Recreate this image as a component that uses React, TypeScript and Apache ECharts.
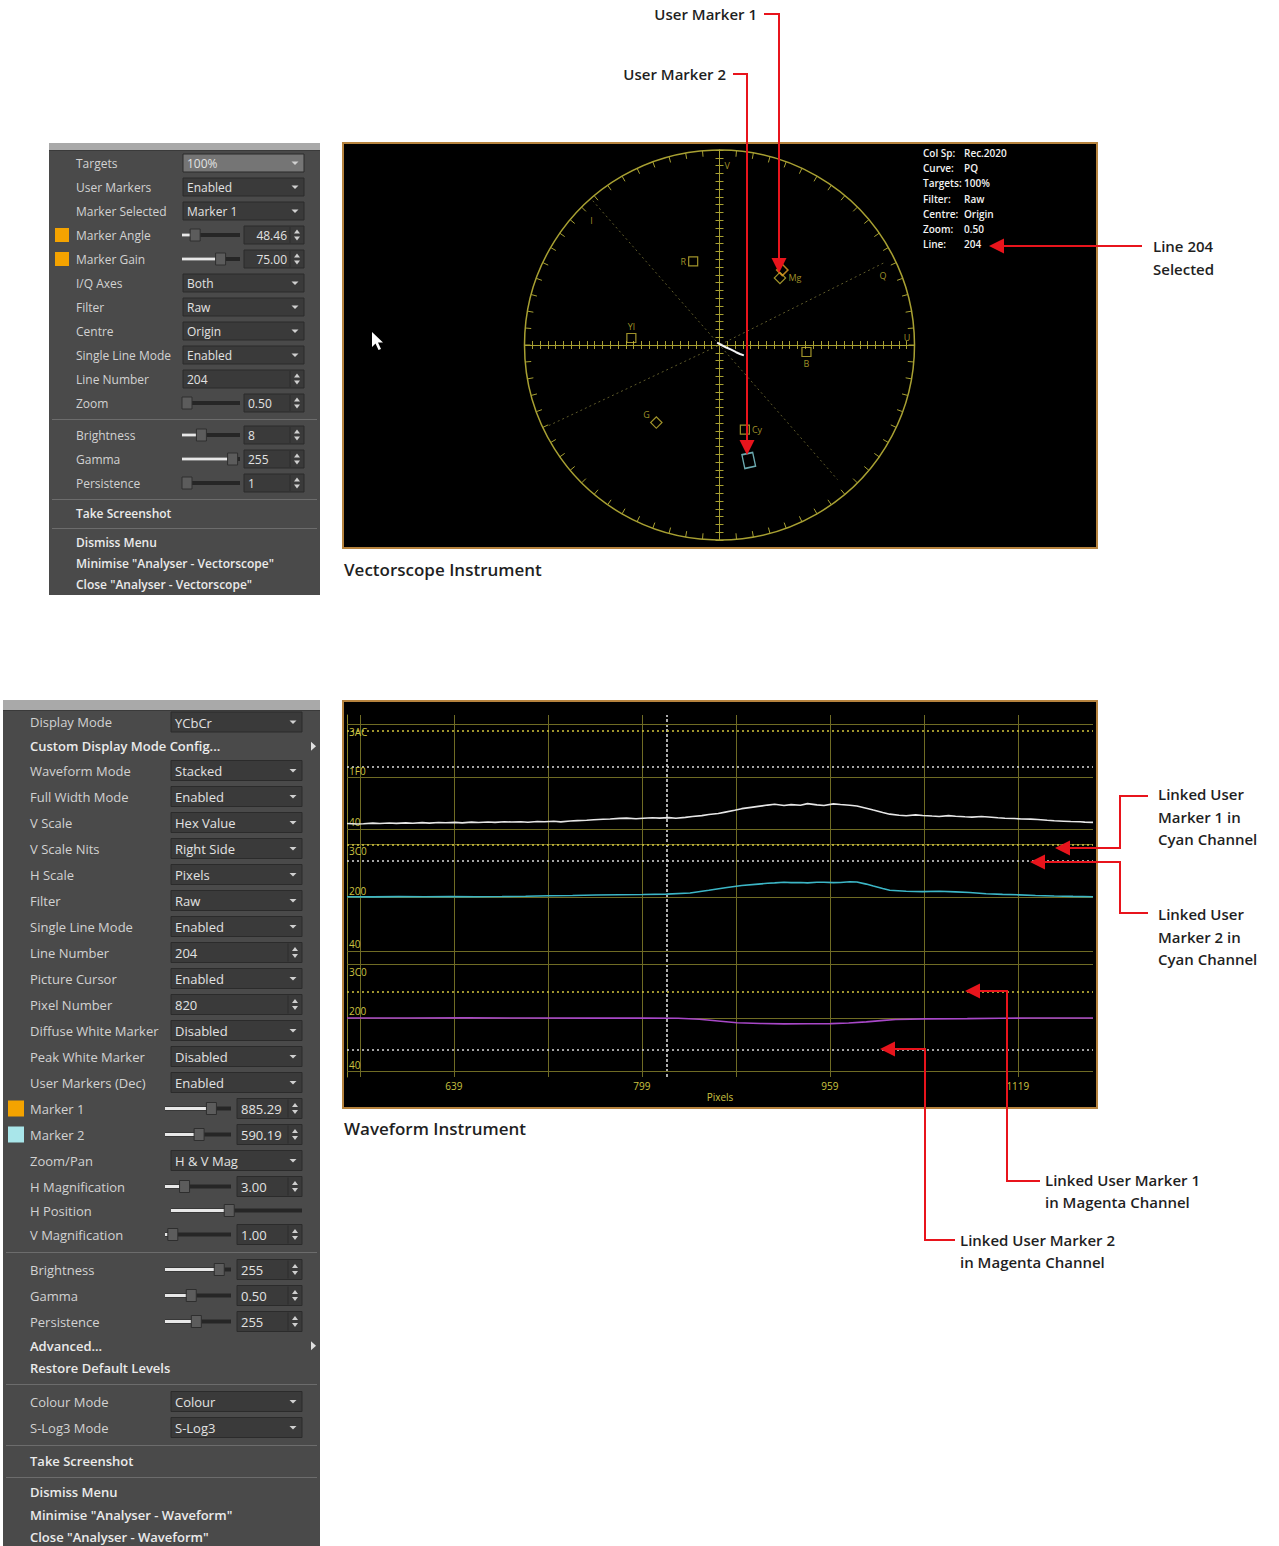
import React, { useEffect, useRef } from "react";
import * as echarts from "echarts";

/* ================= Vectorscope data ================= */
const vsTargetNames = ["R", "Mg", "B", "Cy", "G", "Yl"];
const vsTargetU = [-0.135, 0.31, 0.446, 0.13, -0.324, -0.452];
const vsTargetV = [0.429, 0.344, -0.036, -0.434, -0.398, 0.036];
const vsAxisNames = ["V", "U", "I", "Q"];
const vsAxisU = [0.04, 0.962, -0.656, 0.839];
const vsAxisV = [0.918, 0.036, 0.638, 0.357];
const vsIAxisLine = [[-0.65, 0.74], [0, 0], [0.605, -0.69]];
const vsQAxisLine = [[0.84, 0.42], [0, 0], [-0.89, -0.42]];
const vsLine204 = [[-0.012, 0.012], [0.01, 0.0], [0.035, -0.013], [0.06, -0.024], [0.085, -0.037], [0.105, -0.046], [0.125, -0.053]];
const userMarkerNames = ["Marker 1", "Marker 2"];
const userMarkerU = [0.322, 0.15];
const userMarkerV = [0.385, -0.592];
const vsInfoKeys = ["Col Sp:", "Curve:", "Targets:", "Filter:", "Centre:", "Zoom:", "Line:"];
const vsInfoValues = ["Rec.2020", "PQ", "100%", "Raw", "Origin", "0.50", "204"];

/* ================= Waveform data ================= */
const wfPixelLabels = [639, 799, 959, 1119];
const wfGridPixels = [559, 639, 719, 799, 879, 959, 1039, 1119];
const wfPictureCursor = 820;
const wfLumaLevels = [940, 496, 64];
const wfLumaLevelLabels = ["3AC", "1F0", "40"];
const wfNitsLabels = ["10000\nNits", "92.2", "0.00"];
const wfChromaLevels = [960, 512, 64];
const wfChromaLevelLabels = ["3C0", "200", "40"];
const wfYMarkers = [885.29, 590.19];
const wfCbMarkers = [953, 819];
const wfCrMarkers = [732, 244];
const wfY = [[548, 112], [556, 108], [562, 110], [570, 115], [576, 112], [584, 116], [590, 113], [598, 117], [604, 114], [612, 119], [618, 115], [626, 120], [632, 118], [640, 121], [646, 117], [654, 123], [660, 120], [668, 124], [674, 121], [682, 127], [688, 124], [696, 126], [702, 122], [710, 129], [716, 126], [724, 130], [730, 125], [738, 133], [744, 136], [752, 139], [758, 143], [766, 147], [772, 150], [780, 155], [786, 157], [794, 152], [800, 156], [808, 160], [814, 157], [822, 161], [828, 156], [836, 163], [842, 170], [850, 178], [856, 187], [864, 196], [870, 207], [878, 222], [884, 236], [892, 247], [898, 255], [906, 266], [912, 273], [920, 262], [926, 270], [934, 264], [940, 278], [948, 268], [954, 262], [962, 276], [968, 271], [976, 265], [982, 258], [990, 240], [996, 224], [1004, 204], [1010, 190], [1018, 181], [1024, 176], [1032, 184], [1038, 179], [1046, 174], [1052, 171], [1060, 178], [1066, 173], [1074, 168], [1080, 165], [1088, 170], [1094, 166], [1102, 160], [1108, 156], [1116, 153], [1122, 150], [1130, 148], [1136, 145], [1144, 139], [1150, 135], [1158, 131], [1164, 128], [1172, 126], [1176, 123], [1183, 121]];
const wfCb = [[548, 520], [570, 519], [592, 521], [614, 520], [636, 521], [658, 520], [680, 522], [700, 524], [720, 528], [740, 531], [760, 535], [780, 537], [800, 539], [820, 542], [840, 552], [856, 575], [870, 596], [884, 614], [898, 626], [906, 633], [912, 636], [920, 641], [926, 638], [934, 640], [940, 636], [948, 641], [954, 642], [962, 638], [968, 640], [976, 646], [982, 643], [990, 626], [996, 610], [1004, 589], [1010, 574], [1024, 566], [1038, 563], [1052, 566], [1066, 561], [1078, 556], [1092, 545], [1106, 540], [1120, 536], [1134, 530], [1150, 526], [1166, 523], [1183, 520]];
const wfCr = [[548, 512], [600, 512], [650, 513], [700, 512], [760, 511], [800, 512], [830, 510], [848, 501], [866, 485], [880, 472], [900, 466], [920, 463], [940, 464], [960, 465], [975, 470], [990, 480], [1005, 492], [1015, 500], [1040, 505], [1076, 507], [1104, 510], [1130, 512], [1183, 512]];

/* ================= Menus ================= */
const vsMenuRows = [
  { label: "Targets", kind: "drop", value: "100%", hl: true },
  { label: "User Markers", kind: "drop", value: "Enabled" },
  { label: "Marker Selected", kind: "drop", value: "Marker 1" },
  { label: "Marker Angle", kind: "slider", value: "48.46", pos: 0.17, swatch: "m1", ra: true },
  { label: "Marker Gain", kind: "slider", value: "75.00", pos: 0.7, swatch: "m1", ra: true },
  { label: "I/Q Axes", kind: "drop", value: "Both" },
  { label: "Filter", kind: "drop", value: "Raw" },
  { label: "Centre", kind: "drop", value: "Origin" },
  { label: "Single Line Mode", kind: "drop", value: "Enabled" },
  { label: "Line Number", kind: "spin", value: "204" },
  { label: "Zoom", kind: "slider", value: "0.50", pos: 0 },
  { kind: "sep" },
  { label: "Brightness", kind: "slider", value: "8", pos: 0.3 },
  { label: "Gamma", kind: "slider", value: "255", pos: 0.95 },
  { label: "Persistence", kind: "slider", value: "1", pos: 0 },
  { kind: "sep" },
  { label: "Take Screenshot", kind: "action" },
  { kind: "sep" },
  { label: "Dismiss Menu", kind: "action" },
  { label: "Minimise \"Analyser - Vectorscope\"", kind: "action" },
  { label: "Close \"Analyser - Vectorscope\"", kind: "action" },
];
const wfMenuRows = [
  { label: "Display Mode", kind: "drop", value: "YCbCr" },
  { label: "Custom Display Mode Config...", kind: "sub" },
  { label: "Waveform Mode", kind: "drop", value: "Stacked" },
  { label: "Full Width Mode", kind: "drop", value: "Enabled" },
  { label: "V Scale", kind: "drop", value: "Hex Value" },
  { label: "V Scale Nits", kind: "drop", value: "Right Side" },
  { label: "H Scale", kind: "drop", value: "Pixels" },
  { label: "Filter", kind: "drop", value: "Raw" },
  { label: "Single Line Mode", kind: "drop", value: "Enabled" },
  { label: "Line Number", kind: "spin", value: "204" },
  { label: "Picture Cursor", kind: "drop", value: "Enabled" },
  { label: "Pixel Number", kind: "spin", value: "820" },
  { label: "Diffuse White Marker", kind: "drop", value: "Disabled" },
  { label: "Peak White Marker", kind: "drop", value: "Disabled" },
  { label: "User Markers (Dec)", kind: "drop", value: "Enabled" },
  { label: "Marker 1", kind: "slider", value: "885.29", pos: 0.74, swatch: "m1" },
  { label: "Marker 2", kind: "slider", value: "590.19", pos: 0.52, swatch: "m2" },
  { label: "Zoom/Pan", kind: "drop", value: "H & V Mag" },
  { label: "H Magnification", kind: "slider", value: "3.00", pos: 0.26 },
  { label: "H Position", kind: "track", pos: 0.44 },
  { label: "V Magnification", kind: "slider", value: "1.00", pos: 0.05 },
  { kind: "sep" },
  { label: "Brightness", kind: "slider", value: "255", pos: 0.88 },
  { label: "Gamma", kind: "slider", value: "0.50", pos: 0.38 },
  { label: "Persistence", kind: "slider", value: "255", pos: 0.47 },
  { label: "Advanced...", kind: "sub" },
  { label: "Restore Default Levels", kind: "action" },
  { kind: "sep" },
  { label: "Colour Mode", kind: "drop", value: "Colour" },
  { label: "S-Log3 Mode", kind: "drop", value: "S-Log3" },
  { kind: "sep" },
  { label: "Take Screenshot", kind: "action" },
  { kind: "sep" },
  { label: "Dismiss Menu", kind: "action" },
  { label: "Minimise \"Analyser - Waveform\"", kind: "action" },
  { label: "Close \"Analyser - Waveform\"", kind: "action" },
];

/* ================= helpers ================= */
const FONT = '"Open Sans", "Noto Sans", sans-serif';
const swatchColors: any = { m1: "#f4a300", m2: "#a9e6ea" };

const txt = (text: string, x: number, y: number, o: any = {}) => ({
  type: "text", x, y, z: o.z ?? 5, silent: true,
  style: { text, fill: o.fill ?? "#d0d0d0", fontSize: o.fs ?? 12, fontFamily: FONT, fontWeight: o.fw ?? 400, align: o.align ?? "left", verticalAlign: "middle", lineHeight: o.lh },
});
const rect = (x: number, y: number, w: number, h: number, fill: string, o: any = {}) => ({
  type: "rect", z: o.z ?? 2, silent: true, shape: { x, y, width: w, height: h },
  style: { fill, stroke: o.stroke ?? null, lineWidth: o.lw ?? 1 },
});
const seg = (x1: number, y1: number, x2: number, y2: number, stroke: string, lw = 1, z = 3) => ({
  type: "line", z, silent: true, shape: { x1, y1, x2, y2 }, style: { stroke, lineWidth: lw },
});
const poly = (points: number[][], fill: string, z = 4) => ({ type: "polygon", z, silent: true, shape: { points }, style: { fill } });

function buildMenu(rows: any[], g: any) {
  const els: any[] = [];
  els.push(rect(g.x, g.y, g.w, g.h, "#4a4a4a", { z: 1 }));
  els.push(rect(g.x, g.y, g.w, g.hatch, "#a9a9a9", { z: 2 }));
  els.push(seg(g.x, g.y + g.hatch + 0.5, g.x + g.w, g.y + g.hatch + 0.5, "#3a3a3a", 1, 2));
  let top = g.firstY - g.rowH / 2;
  const spinArrows = (cy: number) => {
    const ax = g.cr - 7;
    els.push(seg(g.cr - 14, cy - g.ch / 2 + 1, g.cr - 14, cy + g.ch / 2 - 1, "#2c2c2c", 1, 4));
    els.push(poly([[ax - 3, cy - 1.5], [ax + 3, cy - 1.5], [ax, cy - 5.5]], "#cfcfcf"));
    els.push(poly([[ax - 3, cy + 1.5], [ax + 3, cy + 1.5], [ax, cy + 5.5]], "#cfcfcf"));
  };
  rows.forEach((r) => {
    if (r.kind === "sep") {
      const ly = Math.round(top + g.sep / 2) + 0.5;
      els.push(seg(g.x + 3, ly, g.x + g.w - 3, ly, "#6c6c6c", 1, 2));
      top += g.sep;
      return;
    }
    const isText = r.kind === "action" || r.kind === "sub";
    const h = isText ? g.textH : r.kind === "track" ? g.trackH : g.rowH;
    const cy = top + h / 2;
    top += h;
    els.push(txt(r.label, g.lx, cy, { fs: g.fs, fw: isText ? 600 : 400, fill: isText ? "#ebebeb" : "#d2d2d2" }));
    if (r.swatch) {
      els.push(rect(g.swx, cy - g.sws / 2, g.sws, g.sws, swatchColors[r.swatch], { z: 3 }));
    }
    if (r.kind === "sub") {
      const ax = g.x + g.w - 7;
      els.push(poly([[ax - 2, cy - 4.5], [ax - 2, cy + 4.5], [ax + 3, cy]], "#e0e0e0"));
    }
    if (r.kind === "drop" || r.kind === "spin") {
      els.push(rect(g.cx, cy - g.ch / 2, g.cr - g.cx, g.ch, r.hl ? "#757575" : "#3a3a3a", { stroke: "#2b2b2b", z: 3 }));
      els.push(txt(r.value, g.cx + 4, cy + 0.5, { fs: g.fs, fill: "#e2e2e2" }));
      if (r.kind === "drop") {
        const ax = g.cr - 9;
        els.push(poly([[ax - 3.5, cy - 1.5], [ax + 3.5, cy - 1.5], [ax, cy + 2]], "#d0d0d0"));
      } else spinArrows(cy);
    }
    if (r.kind === "slider" || r.kind === "track") {
      const x0 = r.kind === "track" ? g.cx : g.sx0;
      const x1 = r.kind === "track" ? g.cr : g.sx1;
      const tx = x0 + 5 + (x1 - x0 - 10) * r.pos;
      els.push(seg(x0, cy, x1, cy, "#262626", 4, 3));
      els.push(seg(x0, cy, tx, cy, "#e8e8e8", 3, 3));
      els.push(rect(tx - 5, cy - 6, 10, 12, "#5c5c5c", { stroke: "#2e2e2e", z: 4 }));
      if (r.kind === "slider") {
        els.push(rect(g.spx, cy - g.ch / 2, g.cr - g.spx, g.ch, "#3a3a3a", { stroke: "#2b2b2b", z: 3 }));
        if (r.ra) els.push(txt(r.value, g.cr - 17, cy + 0.5, { fs: g.fs, fill: "#e2e2e2", align: "right" }));
        else els.push(txt(r.value, g.spx + 4, cy + 0.5, { fs: g.fs, fill: "#e2e2e2" }));
        spinArrows(cy);
      }
    }
  });
  return els;
}

const RED = "#e8141c";
function redArrow(points: number[][], tip: number[], dir: string) {
  const els: any[] = [{ type: "polyline", z: 100, silent: true, shape: { points }, style: { stroke: RED, lineWidth: 2, fill: null } }];
  const [x, y] = tip;
  const L = 15, Hw = 7.5;
  let head: number[][] = [];
  if (dir === "down") head = [[x, y], [x - Hw, y - L], [x + Hw, y - L]];
  if (dir === "left") head = [[x, y], [x + L, y - Hw], [x + L, y + Hw]];
  els.push(poly(head, RED, 101));
  return els;
}
const note = (text: string, x: number, y: number, align = "left", fs = 15) =>
  txt(text, x, y, { fs, fw: 600, fill: "#1f1f1f", align, z: 100 });

/* ================= layout constants ================= */
const VS_CX = 719.5, VS_CY = 345, VS_R = 195;
const WF_L = 347, WF_W = 746;
const PX_PER_CODE = 0.1194;
const WF_XMIN = 548, WF_XMAX = 1183;

const OLIVE = "#6f6b24";
const YEL = "#cbc340";
const VSYEL = "#a8a032";

function buildOption() {
  const graphics: any[] = [];
  // instrument panels
  graphics.push(rect(343, 143, 754, 405, "#000000", { stroke: "#b6833e", lw: 2, z: -5 }));
  graphics.push(rect(343, 701, 754, 407, "#000000", { stroke: "#b6833e", lw: 2, z: -5 }));
  // menus
  graphics.push(...buildMenu(vsMenuRows, { x: 49, y: 143, w: 271, h: 452, hatch: 7, firstY: 163, rowH: 24, textH: 21, trackH: 22, sep: 8, lx: 76, fs: 12, cx: 183, cr: 304, ch: 18, sx0: 182, sx1: 240, spx: 244, swx: 55, sws: 14 }));
  graphics.push(...buildMenu(wfMenuRows, { x: 3, y: 700, w: 317, h: 846, hatch: 10, firstY: 722, rowH: 26, textH: 22.5, trackH: 22, sep: 9, lx: 30, fs: 13, cx: 171, cr: 302, ch: 20, sx0: 165, sx1: 231, spx: 237, swx: 8, sws: 16 }));
  // vectorscope info block
  vsInfoKeys.forEach((k, i) => {
    const y = 153 + i * 15.2;
    graphics.push(txt(k, 923, y, { fs: 10, fw: 600, fill: "#f2f2f2", z: 10 }));
    graphics.push(txt(vsInfoValues[i], 964, y, { fs: 10, fw: 600, fill: "#f2f2f2", z: 10 }));
  });
  // mouse pointer
  graphics.push(poly([[372, 332], [372, 347], [375.5, 343.5], [378.5, 350], [381, 349], [378, 342.5], [383, 342.5]], "#ffffff", 10));
  // captions
  graphics.push(note("Vectorscope Instrument", 344, 569, "left", 17));
  graphics.push(note("Waveform Instrument", 344, 1128, "left", 17));
  // annotations
  graphics.push(note("User Marker 1", 757, 14, "right"));
  graphics.push(...redArrow([[764, 14], [779, 14], [779, 260]], [779, 273], "down"));
  graphics.push(note("User Marker 2", 726, 74, "right"));
  graphics.push(...redArrow([[733, 74], [747, 74], [747, 442]], [747, 455], "down"));
  graphics.push(note("Line 204", 1153, 246));
  graphics.push(note("Selected", 1153, 269));
  graphics.push(...redArrow([[1142, 246], [1002, 246]], [989, 246], "left"));
  ["Linked User", "Marker 1 in", "Cyan Channel"].forEach((t, i) => graphics.push(note(t, 1158, 794 + i * 22.5)));
  graphics.push(...redArrow([[1148, 796], [1120, 796], [1120, 848], [1068, 848]], [1055, 848], "left"));
  ["Linked User", "Marker 2 in", "Cyan Channel"].forEach((t, i) => graphics.push(note(t, 1158, 914 + i * 22.5)));
  graphics.push(...redArrow([[1148, 913], [1120, 913], [1120, 862], [1043, 862]], [1030, 862], "left"));
  graphics.push(note("Linked User Marker 1", 1045, 1180));
  graphics.push(note("in Magenta Channel", 1045, 1202));
  graphics.push(...redArrow([[1040, 1181], [1007, 1181], [1007, 991], [978, 991]], [965, 991], "left"));
  graphics.push(note("Linked User Marker 2", 960, 1240));
  graphics.push(note("in Magenta Channel", 960, 1262));
  graphics.push(...redArrow([[955, 1240], [925, 1240], [925, 1049], [893, 1049]], [880, 1049], "left"));

  const hideAxis = { show: false };
  const crossAxis = (gridIndex: number, inside: boolean) => ({
    gridIndex, type: "value", min: -1, max: 1, interval: 0.2, z: 3,
    axisLine: { show: true, onZero: true, lineStyle: { color: VSYEL, width: 1 } },
    axisTick: { show: true, inside, length: 4, lineStyle: { color: VSYEL } },
    minorTick: { show: true, splitNumber: 5, length: 4, lineStyle: { color: VSYEL } },
    axisLabel: { show: false }, splitLine: { show: false },
  });

  const chTop = (maxCode: number, bottomPx: number) => bottomPx - (maxCode - 64) * PX_PER_CODE;
  const yBottom = 829.2, cbBottom = 951.2, crBottom = 1071.5;

  const levelMarks = (levels: number[], labels: string[], right: string[] | null, markers: number[]) => {
    const d: any[] = [];
    levels.forEach((v, i) => {
      d.push({ yAxis: v, lineStyle: { color: OLIVE, width: 1, type: "solid" },
        label: { show: true, position: i === 0 ? "insideStartBottom" : "insideStartTop", formatter: labels[i], color: YEL, fontSize: 10, distance: 2 } });
      if (right) d.push({ yAxis: v, lineStyle: { opacity: 0, width: 0 },
        label: { show: true, position: i === 0 ? "insideEndBottom" : "insideEndTop", formatter: right[i], color: YEL, fontSize: 10, distance: 2, lineHeight: 11 } });
    });
    markers.forEach((m, j) => d.push({ yAxis: m, lineStyle: { color: j === 0 ? "#d4c63e" : "#dcdcdc", type: [2, 3], width: 1.5 }, label: { show: false } }));
    return { symbol: ["none", "none"], silent: true, animation: false, data: d };
  };

  return {
    animation: false,
    backgroundColor: "#ffffff",
    textStyle: { fontFamily: FONT },
    polar: { center: [VS_CX, VS_CY], radius: VS_R },
    angleAxis: {
      type: "value", min: 0, max: 360, interval: 5, startAngle: 90, z: 3,
      axisLine: { show: true, lineStyle: { color: VSYEL, width: 1.5 } },
      axisTick: { show: true, inside: true, length: 6, lineStyle: { color: VSYEL } },
      axisLabel: { show: false }, splitLine: { show: false },
    },
    radiusAxis: { type: "value", min: 0, max: 1, show: false, axisLine: { show: false }, axisTick: { show: false }, axisLabel: { show: false }, splitLine: { show: false } },
    grid: [
      { left: VS_CX - VS_R, top: VS_CY - VS_R, width: 2 * VS_R, height: 2 * VS_R, outerBoundsMode: "none" },
      { left: VS_CX - VS_R, top: VS_CY - VS_R, width: 2 * VS_R, height: 2 * VS_R, outerBoundsMode: "none" },
      { left: WF_L, top: 715, width: WF_W, height: 362, outerBoundsMode: "none" },
      { left: WF_L, top: chTop(940, yBottom), width: WF_W, height: 876 * PX_PER_CODE, outerBoundsMode: "none" },
      { left: WF_L, top: chTop(960, cbBottom), width: WF_W, height: 896 * PX_PER_CODE, outerBoundsMode: "none" },
      { left: WF_L, top: chTop(960, crBottom), width: WF_W, height: 896 * PX_PER_CODE, outerBoundsMode: "none" },
    ],
    xAxis: [
      crossAxis(0, false),
      crossAxis(1, true),
      {
        gridIndex: 2, type: "value", min: WF_XMIN, max: WF_XMAX,
        axisLine: { show: false }, axisTick: { show: false }, splitLine: { show: false },
        axisLabel: { show: true, customValues: wfPixelLabels, formatter: (v: number) => String(v), color: YEL, fontSize: 10, margin: 4 },
        name: "Pixels", nameLocation: "middle", nameGap: 15, nameTextStyle: { color: YEL, fontSize: 10 },
      },
      { gridIndex: 3, type: "value", min: WF_XMIN, max: WF_XMAX, ...hideAxis },
      { gridIndex: 4, type: "value", min: WF_XMIN, max: WF_XMAX, ...hideAxis },
      { gridIndex: 5, type: "value", min: WF_XMIN, max: WF_XMAX, ...hideAxis },
    ],
    yAxis: [
      crossAxis(0, false),
      crossAxis(1, true),
      { gridIndex: 2, type: "value", min: 0, max: 1, axisLine: { show: true, lineStyle: { color: "#8a8428" } }, axisTick: { show: false }, axisLabel: { show: false }, splitLine: { show: false } },
      { gridIndex: 3, type: "value", min: 64, max: 940, ...hideAxis },
      { gridIndex: 4, type: "value", min: 64, max: 960, ...hideAxis },
      { gridIndex: 5, type: "value", min: 64, max: 960, ...hideAxis },
    ],
    series: [
      { type: "scatter", coordinateSystem: "polar", data: [] },
      {
        type: "line", xAxisIndex: 0, yAxisIndex: 0, data: vsIAxisLine, symbol: "none", silent: true,
        lineStyle: { color: "#5e5a2a", type: [2, 3], width: 1 }, z: 2,
      },
      {
        type: "line", xAxisIndex: 0, yAxisIndex: 0, data: vsQAxisLine, symbol: "none", silent: true,
        lineStyle: { color: "#5e5a2a", type: [2, 3], width: 1 }, z: 2,
      },
      {
        type: "scatter", xAxisIndex: 0, yAxisIndex: 0, silent: true, z: 5,
        symbol: "rect", symbolSize: 9,
        itemStyle: { color: "rgba(0,0,0,0)", borderColor: "#c8b834", borderWidth: 1.2 },
        label: { show: true, formatter: "{b}", color: "#c8b834", fontSize: 9, distance: 2 },
        data: vsTargetNames.map((n, i) => {
          const diamond = n === "Mg" || n === "G";
          const pos: any = { R: "left", Mg: "right", B: "bottom", Cy: "right", G: "left", Yl: "top" };
          const off: any = { G: [2, -8] };
          return {
            name: n, value: [vsTargetU[i], vsTargetV[i]],
            symbolRotate: diamond ? 45 : 0, symbolSize: diamond ? 8 : 9,
            label: { position: pos[n], offset: off[n] || [0, 0] },
          };
        }),
      },
      {
        type: "scatter", xAxisIndex: 0, yAxisIndex: 0, silent: true, z: 5, symbolSize: 0,
        label: { show: true, position: "inside", formatter: "{b}", color: "#c8b834", fontSize: 9 },
        data: vsAxisNames.map((n, i) => ({ name: n, value: [vsAxisU[i], vsAxisV[i]] })),
      },
      {
        type: "line", xAxisIndex: 0, yAxisIndex: 0, data: vsLine204, symbol: "none", silent: true, z: 6,
        lineStyle: { color: "#f4f4f4", width: 2 },
      },
      {
        type: "scatter", xAxisIndex: 0, yAxisIndex: 0, silent: true, z: 7,
        data: userMarkerNames.map((n, i) => ({
          name: n, value: [userMarkerU[i], userMarkerV[i]],
          symbol: "rect", symbolRotate: i === 0 ? 45 : 12, symbolSize: i === 0 ? 8 : [11, 14],
          itemStyle: { color: "rgba(0,0,0,0)", borderColor: i === 0 ? "#e8a422" : "#86d4dc", borderWidth: 1.5 },
        })),
      },
      {
        type: "line", xAxisIndex: 2, yAxisIndex: 2, data: [[WF_XMIN, -1]], symbol: "none", silent: true,
        lineStyle: { opacity: 0 },
        markLine: {
          symbol: ["none", "none"], silent: true, animation: false, label: { show: false },
          data: [
            ...wfGridPixels.map((p) => ({ xAxis: p, lineStyle: { color: OLIVE, width: 1, type: "solid" } })),
            { xAxis: wfPictureCursor, lineStyle: { color: "#e2e2e2", width: 1.5, type: [3, 2] } },
          ],
        },
      },
      {
        type: "line", xAxisIndex: 3, yAxisIndex: 3, data: wfY, symbol: "none", silent: true, z: 6,
        lineStyle: { color: "#e6e6e6", width: 1.6 },
        markLine: levelMarks(wfLumaLevels, wfLumaLevelLabels, wfNitsLabels, wfYMarkers),
      },
      {
        type: "line", xAxisIndex: 4, yAxisIndex: 4, data: wfCb, symbol: "none", silent: true, z: 6,
        lineStyle: { color: "#3cb6c6", width: 1.6 },
        markLine: levelMarks(wfChromaLevels, wfChromaLevelLabels, null, wfCbMarkers),
      },
      {
        type: "line", xAxisIndex: 5, yAxisIndex: 5, data: wfCr, symbol: "none", silent: true, z: 6,
        lineStyle: { color: "#a848c8", width: 1.6 },
        markLine: levelMarks(wfChromaLevels, wfChromaLevelLabels, null, wfCrMarkers),
      },
    ],
    graphic: { elements: graphics },
  };
}

export default function App() {
  const ref = useRef<HTMLDivElement>(null);
  useEffect(() => {
    document.body.style.margin = "0";
    const chart = echarts.init(ref.current as HTMLDivElement, null, { renderer: "svg", width: 1279, height: 1546 });
    chart.setOption(buildOption() as any);
    return () => chart.dispose();
  }, []);
  return <div ref={ref} style={{ position: "absolute", left: 0, top: 0, width: 1279, height: 1546, background: "#ffffff" }} />;
}
